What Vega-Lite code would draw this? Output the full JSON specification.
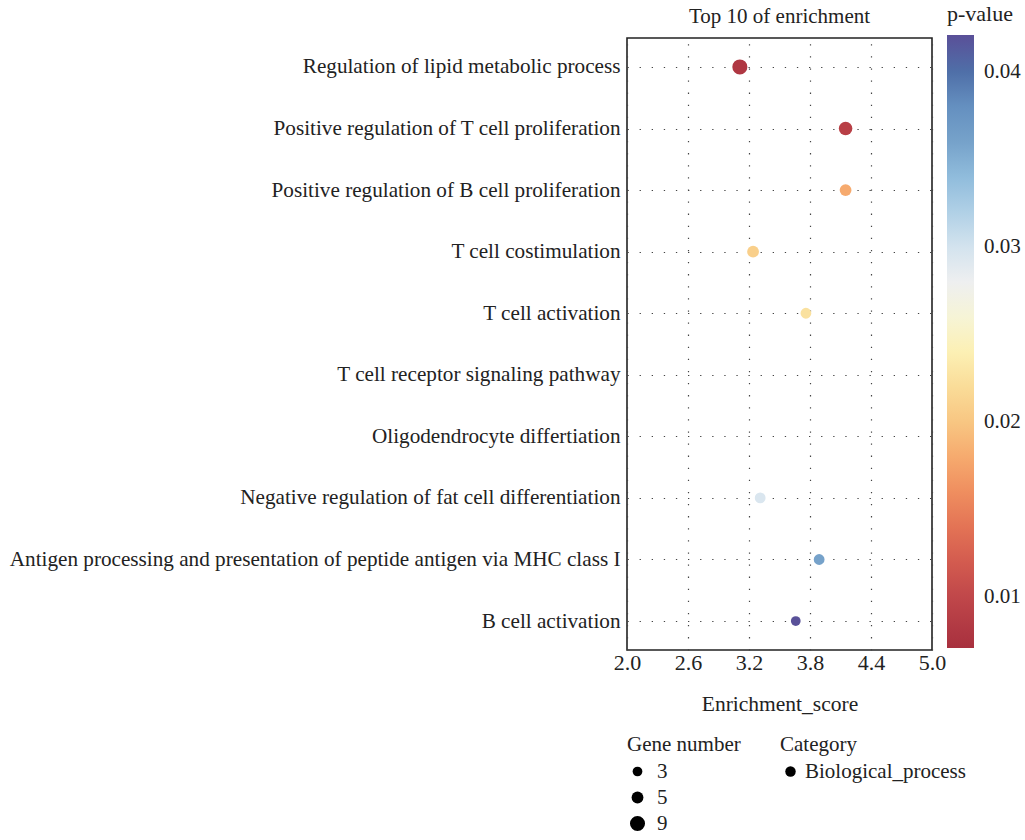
{
  "$schema": "https://vega.github.io/schema/vega-lite/v6.json",
  "autosize": "none",
  "width": 305,
  "height": 612,
  "padding": {"left": 627, "top": 38, "right": 93, "bottom": 190},
  "background": "white",
  "title": {
    "text": "Top 10 of enrichment",
    "font": "Liberation Serif",
    "fontSize": 21,
    "fontWeight": "normal",
    "color": "#222",
    "anchor": "middle",
    "offset": -23
  },
  "config": {
    "font": "Liberation Serif",
    "view": {"stroke": "#222", "strokeWidth": 1.6},
    "axis": {"labelFont": "Liberation Serif", "titleFont": "Liberation Serif", "labelColor": "#222", "titleColor": "#222"},
    "legend": {"labelFont": "Liberation Serif", "titleFont": "Liberation Serif", "labelColor": "#222", "titleColor": "#222"}
  },
  "data": {
    "values": [
      {"term": "Regulation of lipid metabolic process", "enrichment": 3.11, "genes": 9, "p_value": 0.008, "category": "Biological_process"},
      {"term": "Positive regulation of T cell proliferation", "enrichment": 4.15, "genes": 7, "p_value": 0.009, "category": "Biological_process"},
      {"term": "Positive regulation of B cell proliferation", "enrichment": 4.15, "genes": 5, "p_value": 0.018, "category": "Biological_process"},
      {"term": "T cell costimulation", "enrichment": 3.24, "genes": 5, "p_value": 0.0208, "category": "Biological_process"},
      {"term": "T cell activation", "enrichment": 3.76, "genes": 4, "p_value": 0.0225, "category": "Biological_process"},
      {"term": "T cell receptor signaling pathway", "enrichment": null, "genes": null, "p_value": null, "category": "Biological_process"},
      {"term": "Oligodendrocyte differtiation", "enrichment": null, "genes": null, "p_value": null, "category": "Biological_process"},
      {"term": "Negative regulation of fat cell differentiation", "enrichment": 3.31, "genes": 4, "p_value": 0.0295, "category": "Biological_process"},
      {"term": "Antigen processing and presentation of peptide antigen via MHC class I", "enrichment": 3.89, "genes": 4, "p_value": 0.036, "category": "Biological_process"},
      {"term": "B cell activation", "enrichment": 3.66, "genes": 3, "p_value": 0.042, "category": "Biological_process"}
    ]
  },
  "mark": {"type": "point", "filled": true, "opacity": 1},
  "encoding": {
    "x": {
      "field": "enrichment",
      "type": "quantitative",
      "scale": {"domain": [2.0, 5.0], "nice": false, "zero": false},
      "axis": {
        "title": "Enrichment_score",
        "values": [2.0, 2.6, 3.2, 3.8, 4.4, 5.0],
        "format": ".1f",
        "labelFontSize": 22,
        "labelFlush": false,
        "titleFontSize": 21.5,
        "titleFontWeight": "normal",
        "labelPadding": 2,
        "titlePadding": 20,
        "ticks": false,
        "domain": false,
        "grid": true,
        "gridColor": "#444",
        "gridWidth": 1.2,
        "gridDash": [1.3, 10.8]
      }
    },
    "y": {
      "field": "term",
      "type": "nominal",
      "scale": {
        "type": "point",
        "padding": 0.47,
        "domain": [
          "Regulation of lipid metabolic process",
          "Positive regulation of T cell proliferation",
          "Positive regulation of B cell proliferation",
          "T cell costimulation",
          "T cell activation",
          "T cell receptor signaling pathway",
          "Oligodendrocyte differtiation",
          "Negative regulation of fat cell differentiation",
          "Antigen processing and presentation of peptide antigen via MHC class I",
          "B cell activation"
        ]
      },
      "axis": {
        "title": null,
        "labelFontSize": 21.2,
        "labelPadding": 7,
        "labelLimit": 700,
        "ticks": false,
        "domain": false,
        "grid": true,
        "gridColor": "#444",
        "gridWidth": 1.2,
        "gridDash": [1.3, 10.8]
      }
    },
    "color": {
      "field": "p_value",
      "type": "quantitative",
      "scale": {
        "domain": [0.0071, 0.01, 0.013, 0.016, 0.018, 0.02, 0.022, 0.024, 0.026, 0.028, 0.03, 0.032, 0.034, 0.036, 0.038, 0.04, 0.0421],
        "range": ["#a8303e", "#c0474a", "#dc6551", "#ef8e5f", "#f6aa6e", "#f8c682", "#fadc98", "#fcf0b4", "#f6f4d6", "#eeeff0", "#d3e3ee", "#b0d0e6", "#90bcdc", "#76a2ca", "#6590c0", "#4f6fa8", "#5a4f98"]
      },
      "legend": {
        "title": "p-value",
        "orient": "none",
        "legendX": 320,
        "legendY": -34,
        "direction": "vertical",
        "gradientLength": 613,
        "gradientThickness": 27,
        "gradientStrokeWidth": 0,
        "values": [0.01, 0.02, 0.03, 0.04],
        "format": ".2f",
        "labelFontSize": 21,
        "labelOffset": 10,
        "titleFontSize": 22,
        "titleFontWeight": "normal",
        "titlePadding": 9
      }
    },
    "size": {
      "field": "genes",
      "type": "quantitative",
      "scale": {"domain": [3, 9], "range": [95, 227]},
      "legend": {
        "title": "Gene number",
        "orient": "none",
        "legendX": 0,
        "legendY": 696,
        "values": [3, 5, 9],
        "symbolFillColor": "#000",
        "symbolStrokeWidth": 0,
        "symbolOpacity": 1,
        "labelFontSize": 21,
        "labelOffset": 9,
        "titleFontSize": 21,
        "titleFontWeight": "normal",
        "rowPadding": 4,
        "titlePadding": 6
      }
    },
    "shape": {
      "field": "category",
      "type": "nominal",
      "scale": {"range": ["circle"]},
      "legend": {
        "title": "Category",
        "orient": "none",
        "legendX": 153,
        "legendY": 696,
        "symbolFillColor": "#000",
        "symbolStrokeWidth": 0,
        "symbolSize": 110,
        "symbolOpacity": 1,
        "labelFontSize": 21,
        "labelOffset": 4,
        "labelLimit": 300,
        "titleFontSize": 21,
        "titleFontWeight": "normal",
        "titlePadding": 6
      }
    }
  }
}
